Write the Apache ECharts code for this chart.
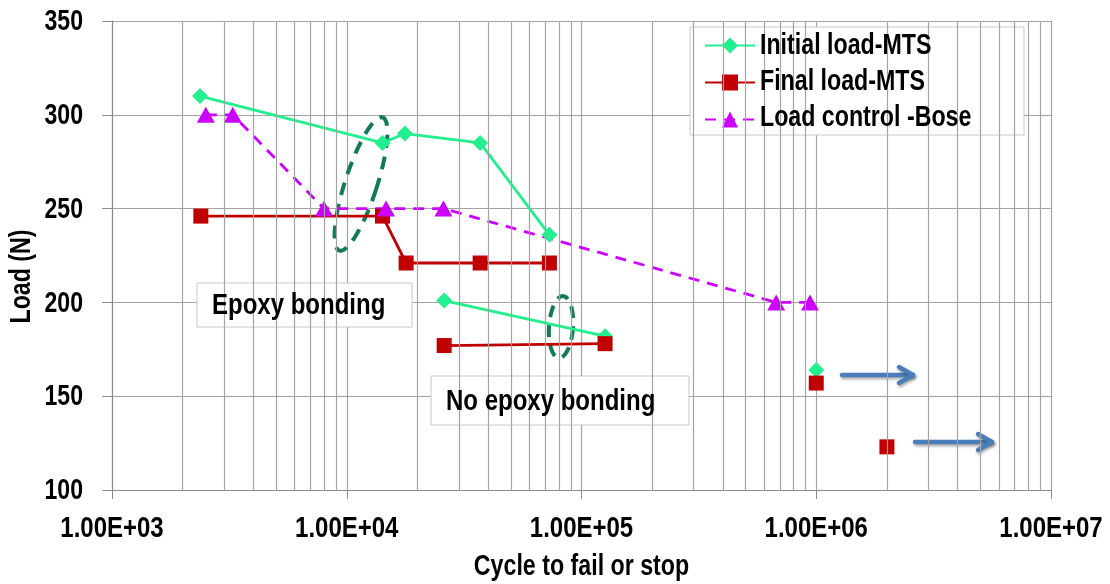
<!DOCTYPE html>
<html>
<head>
<meta charset="utf-8">
<title>Load vs cycles</title>
<script src="https://cdn.jsdelivr.net/npm/echarts@6/dist/echarts.min.js"></script>
<style>
  html, body { margin: 0; padding: 0; background: #fff; }
  #chart { width: 1110px; height: 584px; }
</style>
</head>
<body>
<div id="chart"></div>
<script>
// Cycle counts (x) and loads in N (y), split into the drawn segments
const seriesNames = ['Initial load-MTS', 'Final load-MTS', 'Load control -Bose'];

const initialBonded   = [[2370, 310], [14200, 285], [17700, 290], [37000, 285], [73000, 236]];
const initialUnbonded = [[26000, 201], [126000, 182]];
const initialRunout   = [[1000000, 164]];

const finalBonded     = [[2390, 246], [14200, 246], [17900, 221], [37000, 221], [73000, 221]];
const finalUnbonded   = [[26000, 177], [126000, 178]];
const finalRunout1    = [[1000000, 157]];
const finalRunout2    = [[2000000, 123]];

const boseLoad        = [[2510, 300], [3270, 300], [8000, 250], [14700, 250], [25800, 250], [675000, 200], [940000, 200]];

const xTickValues = [1e3, 1e4, 1e5, 1e6, 1e7];
const xTickLabels = ['1.00E+03', '1.00E+04', '1.00E+05', '1.00E+06', '1.00E+07'];
const yTickValues = [100, 150, 200, 250, 300, 350];
const xTitle = 'Cycle to fail or stop';
const yTitle = 'Load (N)';

// no narrow face is installed, so bold Arial-metric text is squeezed horizontally
const FONT = '"Liberation Sans", Arial, sans-serif';
const SQUEEZE = 0.8;
const GREEN = '#22ef8d', RED = '#c00000', PURPLE = '#cc00ff';
const GRID_COLOR = '#a3a3a3', AXIS_COLOR = '#8c8c8c';

// minor vertical grid lines at 2..9 within each decade
const minorLines = [];
for (let e = 3; e < 7; e++) {
  for (let m = 2; m <= 9; m++) minorLines.push({ xAxis: m * Math.pow(10, e) });
}

function lineSeries(name, data, color, symbol, size, dashed) {
  return {
    name: name,
    type: 'line',
    data: data,
    symbol: symbol,
    symbolSize: size,
    lineStyle: { color: color, width: 2.8, type: dashed ? [11, 8] : 'solid' },
    itemStyle: { color: color },
    emphasis: { disabled: true },
    animation: false
  };
}

function squeezedText(x, y, text, size, align, rotation, sx) {
  return {
    type: 'text', x: x, y: y, rotation: rotation || 0, scaleX: sx || SQUEEZE,
    silent: true, z: 20,
    style: { text: text, fill: '#000', font: 'bold ' + size + 'px ' + FONT, align: align, verticalAlign: 'middle' }
  };
}

// closed outline of a tilted ellipse, a = vertical semi-axis, b = horizontal
function ellipsePoints(cx, cy, a, b, deg) {
  const r = deg * Math.PI / 180, pts = [];
  for (let i = 0; i < 90; i++) {
    const t = 2 * Math.PI * i / 90;
    const x = b * Math.cos(t), y = a * Math.sin(t);
    pts.push([cx + x * Math.cos(r) - y * Math.sin(r), cy + x * Math.sin(r) + y * Math.cos(r)]);
  }
  return pts;
}

function arrow(x1, x2, y) {
  const st = {
    stroke: '#4a7ebb', lineWidth: 4.5, lineCap: 'round', lineJoin: 'round', fill: null,
    shadowBlur: 3, shadowColor: 'rgba(0,0,0,0.35)', shadowOffsetX: 1, shadowOffsetY: 2
  };
  return {
    type: 'group',
    children: [
      { type: 'line', shape: { x1: x1, y1: y, x2: x2, y2: y }, style: st },
      { type: 'polyline', shape: { points: [[x2 - 14, y - 8], [x2, y], [x2 - 14, y + 8]] }, style: st }
    ]
  };
}

function labelBox(x, y, w, h, text) {
  return {
    type: 'group',
    children: [
      { type: 'rect', shape: { x: x, y: y, width: w, height: h }, style: { fill: '#fff', stroke: '#c8c8c8', lineWidth: 1 } },
      squeezedText(x + 15, y + h / 2 + 1, text, 30, 'left')
    ]
  };
}

const chart = echarts.init(document.getElementById('chart'), null, { renderer: 'canvas' });

chart.setOption({
  backgroundColor: '#fff',
  animation: false,
  grid: { left: 112, right: 59, top: 21, bottom: 94, outerBoundsMode: 'none', containLabel: false },
  legend: {
    data: seriesNames,
    orient: 'vertical',
    left: 690,
    top: 27,
    itemWidth: 50,
    itemHeight: 20,
    itemGap: 8,
    padding: [4, 42, 1, 14],
    backgroundColor: '#fff',
    borderColor: '#c8c8c8',
    borderWidth: 1,
    selectedMode: false,
    // legend text is drawn squeezed on top; this keeps the box sized for it
    textStyle: { fontFamily: FONT, fontWeight: 'bold', fontSize: 29, lineHeight: 28, width: 222, overflow: 'truncate', color: 'rgba(0,0,0,0)' }
  },
  xAxis: {
    type: 'log',
    logBase: 10,
    min: 1000,
    max: 10000000,
    axisLine: { lineStyle: { color: AXIS_COLOR, width: 1 } },
    axisTick: { show: true, length: 9, lineStyle: { color: AXIS_COLOR } },
    axisLabel: { show: false },
    splitLine: { show: true, lineStyle: { color: GRID_COLOR, width: 1.2 } }
  },
  yAxis: {
    type: 'value',
    min: yTickValues[0],
    max: yTickValues[yTickValues.length - 1],
    interval: 50,
    axisLine: { show: true, lineStyle: { color: AXIS_COLOR, width: 1 } },
    axisTick: { show: true, length: 10, lineStyle: { color: AXIS_COLOR } },
    axisLabel: { show: false },
    splitLine: { show: true, lineStyle: { color: GRID_COLOR, width: 1.2 } }
  },
  series: [
    {
      type: 'line', data: [], z: 1, silent: true,
      markLine: {
        silent: true, symbol: 'none', animation: false,
        label: { show: false },
        lineStyle: { color: GRID_COLOR, width: 1.2, type: 'solid' },
        emphasis: { disabled: true },
        data: minorLines
      }
    },
    lineSeries(seriesNames[0], initialBonded, GREEN, 'diamond', 16, false),
    lineSeries(seriesNames[0], initialUnbonded, GREEN, 'diamond', 16, false),
    lineSeries(seriesNames[0], initialRunout, GREEN, 'diamond', 16, false),
    lineSeries(seriesNames[1], finalBonded, RED, 'rect', 15, false),
    lineSeries(seriesNames[1], finalUnbonded, RED, 'rect', 15, false),
    lineSeries(seriesNames[1], finalRunout1, RED, 'rect', 15, false),
    lineSeries(seriesNames[1], finalRunout2, RED, 'rect', 15, false),
    lineSeries(seriesNames[2], boseLoad, PURPLE, 'triangle', [18, 16], true)
  ]
});

// tick labels, axis titles and legend text placed through the axes' own scales
const texts = [];
const gridRect = chart.getModel().getComponent('grid', 0).coordinateSystem.getRect();
xTickValues.forEach(function (v, i) {
  const px = chart.convertToPixel({ xAxisIndex: 0 }, v);
  texts.push(squeezedText(px, gridRect.y + gridRect.height + 39, xTickLabels[i], 30, 'center'));
});
yTickValues.forEach(function (v) {
  const py = chart.convertToPixel({ yAxisIndex: 0 }, v);
  texts.push(squeezedText(gridRect.x - 29, py + 1, String(v), 30, 'right', 0, 0.77));
});
texts.push(squeezedText(gridRect.x + gridRect.width / 2, gridRect.y + gridRect.height + 77, xTitle, 29, 'center'));
texts.push(squeezedText(gridRect.x - 90, gridRect.y + gridRect.height / 2 + 21, yTitle, 29, 'center', Math.PI / 2));
seriesNames.forEach(function (name, i) {
  texts.push(squeezedText(760, 46 + i * 36, name, 29, 'left'));
});

chart.setOption({
  graphic: texts.concat([
    labelBox(197, 283, 215, 44, 'Epoxy bonding'),
    labelBox(431, 376, 258, 49, 'No epoxy bonding'),
    {
      type: 'polygon', silent: true,
      shape: { points: ellipsePoints(361, 184, 70, 16, 18) },
      style: { fill: null, stroke: '#137a56', lineWidth: 4, lineDash: [13, 9] }
    },
    {
      type: 'polygon', silent: true,
      shape: { points: ellipsePoints(561, 327, 31, 12, 4) },
      style: { fill: null, stroke: '#137a56', lineWidth: 4, lineDash: [12, 8] }
    },
    arrow(842, 913, 375),
    arrow(915, 992, 442)
  ])
});
</script>
</body>
</html>
